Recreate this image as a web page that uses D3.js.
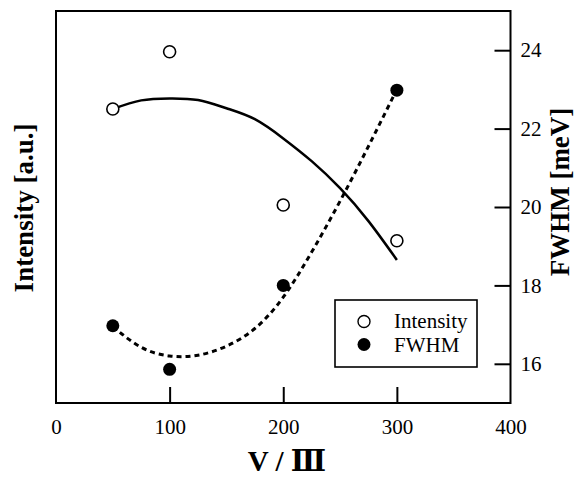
<!DOCTYPE html>
<html><head><meta charset="utf-8">
<script src="https://cdn.jsdelivr.net/npm/d3@7"></script>
<style>body{margin:0;background:#fff}svg{display:block}</style>
</head><body>
<svg id="c" width="574" height="480"></svg>
<script>
// ---- data ----
const ratio = [50, 100, 200, 300];               // V/III
const intensity = [7.5, 8.96, 5.05, 4.14];        // a.u.
const fwhm = [16.97, 15.86, 18.0, 22.98];         // meV
// fitted guide curves
const fitX = [50, 75, 100, 125, 150, 175, 200, 225, 250, 275, 300];
const intensityFit = [7.5, 7.72, 7.77, 7.73, 7.52, 7.24, 6.75, 6.17, 5.48, 4.64, 3.65];
const fwhmFit = [16.95, 16.42, 16.2, 16.22, 16.45, 16.9, 17.7, 18.85, 20.15, 21.55, 23.0];
const xTicks = [0, 100, 200, 300, 400];
const yRightTicks = [16, 18, 20, 22, 24];

const svg = d3.select("#c");
const L = 56, R = 510.5, T = 11, B = 403;
const x = d3.scaleLinear().domain([0, 400]).range([L, R]);
const yI = d3.scaleLinear().domain([0, 10]).range([B, T]);
const yF = d3.scaleLinear().domain([15, 25]).range([B, T]);
const serif = "'Liberation Serif','DejaVu Serif',serif";

// axes
const xAxis = d3.axisBottom(x).tickValues(xTicks).tickSizeInner(-16).tickSizeOuter(0).tickPadding(20);
const gx = svg.append("g").attr("transform", `translate(0,${B})`).call(xAxis);
gx.select(".domain").remove();
gx.attr("font-family", null);
gx.selectAll("line").attr("stroke", "#000").attr("stroke-width", 2);
gx.selectAll("text").attr("font-family", serif).attr("font-size", 21).attr("fill", "#000").attr("y", 16).attr("dy", "0.71em");
gx.selectAll(".tick").filter(d => d === 0 || d === 400).select("line").remove();

const yAxis = d3.axisRight(yF).tickValues(yRightTicks).tickSizeInner(-16).tickSizeOuter(0);
const gy = svg.append("g").attr("transform", `translate(${R},0)`).call(yAxis);
gy.select(".domain").remove();
gy.attr("font-family", null);
gy.selectAll("line").attr("stroke", "#000").attr("stroke-width", 2);
gy.selectAll("text").attr("font-family", serif).attr("font-size", 21).attr("fill", "#000").attr("x", 10);

// frame
svg.append("rect").attr("x", L).attr("y", T).attr("width", R - L).attr("height", B - T)
  .attr("fill", "none").attr("stroke", "#000").attr("stroke-width", 2);

// curves
const lineI = d3.line().x((d, i) => x(fitX[i])).y(d => yI(d)).curve(d3.curveNatural);
svg.append("path").attr("d", lineI(intensityFit)).attr("fill", "none").attr("stroke", "#000").attr("stroke-width", 2.5);
const lineF = d3.line().x((d, i) => x(fitX[i])).y(d => yF(d)).curve(d3.curveNatural);
svg.append("path").attr("d", lineF(fwhmFit)).attr("fill", "none").attr("stroke", "#000")
  .attr("stroke-width", 3).attr("stroke-dasharray", "5,4");

// points
svg.selectAll("circle.i").data(ratio).enter().append("circle").attr("class", "i")
  .attr("cx", d => x(d)).attr("cy", (d, i) => yI(intensity[i])).attr("r", 6)
  .attr("fill", "#fff").attr("stroke", "#000").attr("stroke-width", 1.6);
svg.selectAll("circle.f").data(ratio).enter().append("circle").attr("class", "f")
  .attr("cx", d => x(d)).attr("cy", (d, i) => yF(fwhm[i])).attr("r", 6.5).attr("fill", "#000");

// legend
const lg = svg.append("g");
lg.append("rect").attr("x", 335).attr("y", 300).attr("width", 142).attr("height", 67)
  .attr("fill", "#fff").attr("stroke", "#000").attr("stroke-width", 1.6);
lg.append("circle").attr("cx", 364).attr("cy", 321.5).attr("r", 6).attr("fill", "#fff").attr("stroke", "#000").attr("stroke-width", 1.4);
lg.append("circle").attr("cx", 364).attr("cy", 344.5).attr("r", 6.5).attr("fill", "#000");
lg.append("text").attr("x", 394).attr("y", 328).text("Intensity").attr("font-family", serif).attr("font-size", 21);
lg.append("text").attr("x", 394).attr("y", 352).text("FWHM").attr("font-family", serif).attr("font-size", 21);

// titles
svg.append("text").attr("x", 287).attr("y", 471).attr("text-anchor", "middle")
  .attr("font-family", serif).attr("font-weight", "bold").attr("font-size", 29).text("V / Ⅲ");
svg.append("text").attr("transform", "translate(33,208) rotate(-90)").attr("text-anchor", "middle")
  .attr("font-family", serif).attr("font-weight", "bold").attr("font-size", 27).text("Intensity [a.u.]");
svg.append("text").attr("transform", "translate(569,192) rotate(-90)").attr("text-anchor", "middle")
  .attr("font-family", serif).attr("font-weight", "bold").attr("font-size", 27).text("FWHM [meV]");
</script>
</body></html>
